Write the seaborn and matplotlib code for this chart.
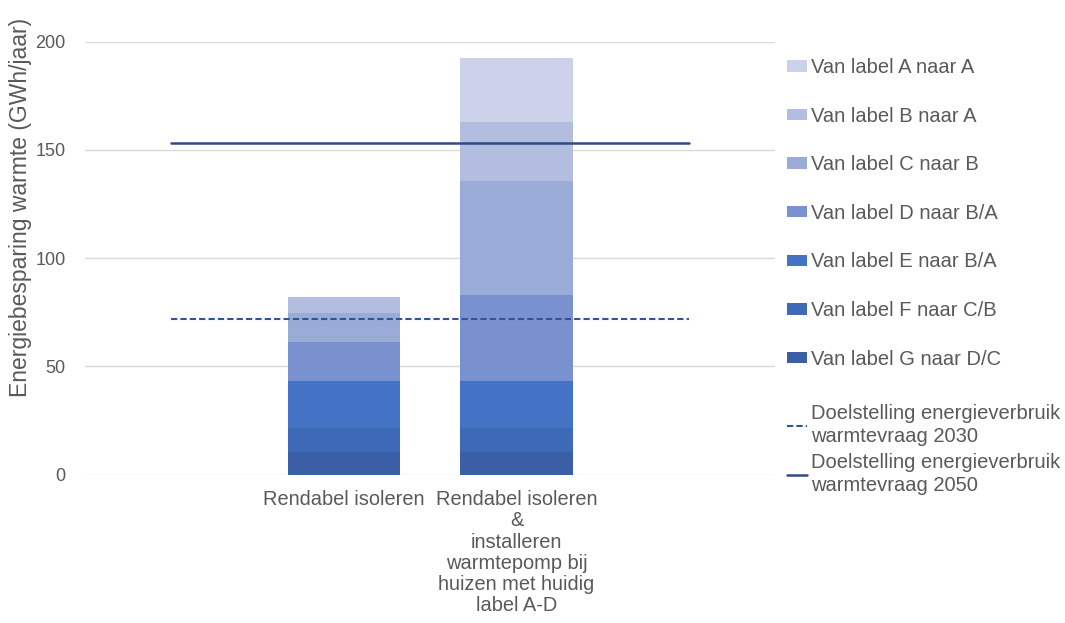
import numpy as np
import pandas as pd
import matplotlib
matplotlib.use("Agg")
import matplotlib.pyplot as plt
import seaborn as sns
from matplotlib.patches import Patch
from matplotlib.lines import Line2D

# categories (outer ones are empty slots on the axis)
categories = ["", "Rendabel isoleren",
              "Rendabel isoleren\n&\ninstalleren\nwarmtepomp bij\nhuizen met huidig\nlabel A-D", " "]
bar_cats = categories[1:3]

# segments bottom -> top
segments = ["Van label G naar D/C", "Van label F naar C/B", "Van label E naar B/A",
            "Van label D naar B/A", "Van label C naar B", "Van label B naar A", "Van label A naar A"]
seg_colors = ["#3b5fa6", "#3e69b6", "#4472c4", "#7a91cf", "#9aabd7", "#b3bde0", "#ccd1ea"]

g_vals = [10.3, 10.3]
f_vals = [11.1, 11.1]
e_vals = [22.1, 22.1]
d_vals = [17.7, 39.3]
c_vals = [13.5, 53.1]
b_vals = [7.6, 27.0]
a_vals = [0.0, 29.4]

target_2030 = 72
target_2050 = 153

grey = "#595959"

sns.set_style("white")
plt.rcParams["font.family"] = ["Liberation Sans", "DejaVu Sans"]

fig = plt.figure(figsize=(10.65, 6.23), dpi=100)
ax = fig.add_axes([0.08, 0.238, 0.648, 0.695])

stack = np.cumsum(np.array([g_vals, f_vals, e_vals, d_vals, c_vals, b_vals, a_vals]), axis=0)

# draw tallest first, shorter overlays -> stacked look
for i in range(len(segments) - 1, -1, -1):
    df = pd.DataFrame({"cat": bar_cats, "val": stack[i]})
    sns.barplot(data=df, x="cat", y="val", order=categories, color=seg_colors[i],
                saturation=1, width=0.65, ax=ax, edgecolor="none", linewidth=0)

xs = [0, len(categories) - 1]
ax.plot(xs, [target_2030] * 2, color="#2f5597", lw=1.5, ls=(0, (3, 1.5)), zorder=5)
ax.plot(xs, [target_2050] * 2, color="#2f4a8c", lw=1.8, zorder=5)

ax.set_xlim(-0.5, len(categories) - 0.5)
ax.set_ylim(0, 200)
ax.set_yticks([0, 50, 100, 150, 200])
ax.yaxis.grid(True, color="#d9d9d9", lw=1)
ax.set_axisbelow(True)
for s in ax.spines.values():
    s.set_visible(False)
ax.tick_params(axis="y", length=0, labelsize=13, colors=grey, pad=14)
ax.tick_params(axis="x", length=0, labelsize=14.4, colors=grey, pad=11)
for lbl in ax.get_xticklabels():
    lbl.set_linespacing(1.15)
ax.set_xlabel("")
ax.set_ylabel("Energiebesparing warmte (GWh/jaar)", fontsize=16.5, color=grey)
ax.yaxis.set_label_coords(-0.077, 0.617)

handles = [Patch(facecolor=seg_colors[i], edgecolor="none") for i in range(len(segments) - 1, -1, -1)]
labels = segments[::-1]
leg = fig.legend(handles, labels, loc="upper left", bbox_to_anchor=(0.722, 0.936),
                 frameon=False, fontsize=14.5, labelspacing=1.47, handlelength=1.0,
                 handleheight=0.5, handletextpad=0.2, labelcolor=grey)

line_handles = [Line2D([], [], color="#2f5597", lw=1.5, ls=(0, (3, 1.5))),
                Line2D([], [], color="#2f4a8c", lw=1.8)]
line_labels = ["Doelstelling energieverbruik\nwarmtevraag 2030",
               "Doelstelling energieverbruik\nwarmtevraag 2050"]
leg2 = fig.legend(line_handles, line_labels, loc="upper left", bbox_to_anchor=(0.722, 0.380),
                  frameon=False, fontsize=14.5, labelspacing=0.35, handlelength=1.0,
                  handletextpad=0.2, labelcolor=grey)
for t in leg2.get_texts():
    t.set_linespacing(1.25)

fig.savefig("out.png", dpi=100)
